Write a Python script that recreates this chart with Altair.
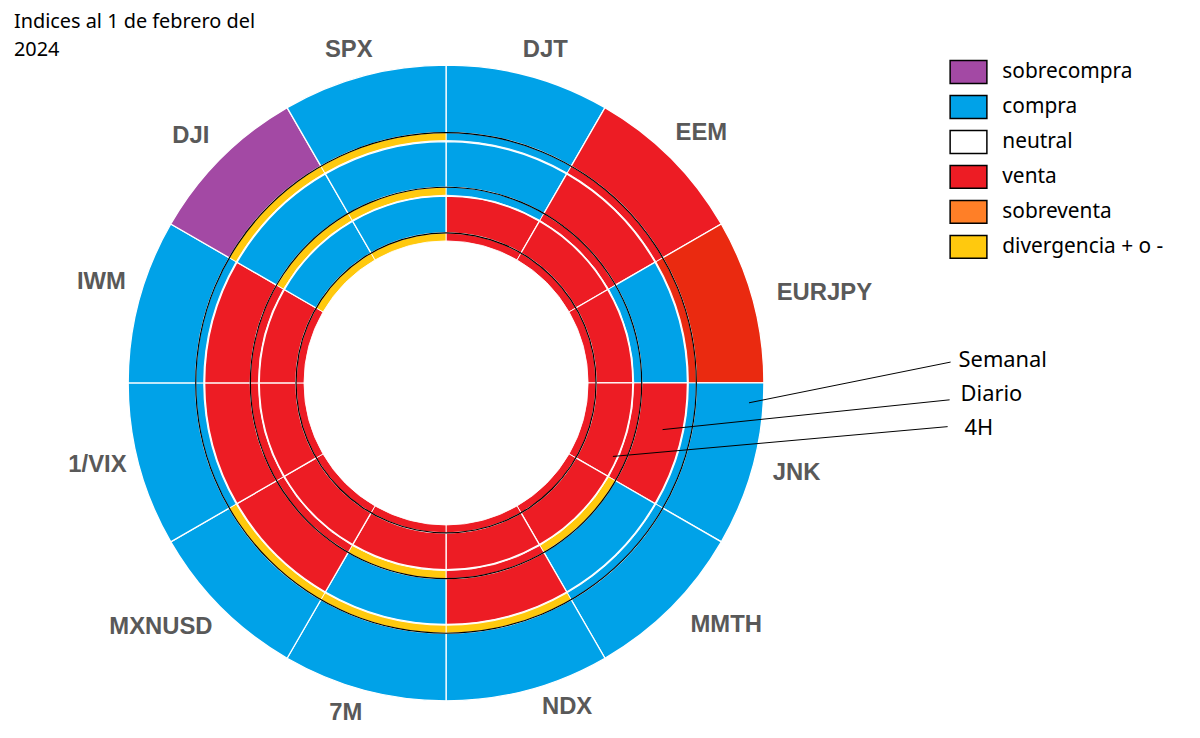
import math
import altair as alt
import pandas as pd

# ---------------- data ----------------
segmentos = ["DJT", "EEM", "EURJPY", "JNK", "MMTH", "NDX", "7M", "MXNUSD", "1/VIX", "IWM", "DJI", "SPX"]
semanal = ["compra", "venta", "venta (EURJPY)", "compra", "compra", "compra",
           "compra", "compra", "compra", "compra", "sobrecompra", "compra"]
diario = ["compra", "venta", "compra", "venta", "compra", "venta",
          "compra", "venta", "venta", "venta", "compra", "compra"]
h4 = ["venta", "venta", "venta", "venta", "venta", "venta",
      "venta", "venta", "venta", "venta", "compra", "compra"]
div_semanal = [False, False, False, False, False, True, True, True, False, False, True, True]
div_diario = [False, False, False, False, True, False, True, False, False, False, True, True]
div_h4 = [False, False, False, False, False, False, False, False, False, False, True, True]

estados = ["sobrecompra", "compra", "neutral", "venta", "sobreventa", "divergencia + o -"]
colores = ["#A349A4", "#00A2E8", "#FFFFFF", "#ED1C24", "#FF7F27", "#FFC90E"]
extra_estado = "venta (EURJPY)"
extra_color = "#EA2A10"

titulo = ["Indices al 1 de febrero del", "2024"]
anotaciones = ["Semanal", "Diario", "4H"]

# ---------------- layout / style (pixels) ----------------
R = 320
rings = {  # (band inner, band outer / main inner, main outer)
    "Semanal": (244, 252, 320),
    "Diario": (189, 197, 243),
    "4H": (143, 151, 188),
}
label_radius = 355
label_nudges = [(8, 8), (6, -1), (38, 1), (10, -1), (31, -7), (30, -17),
                (-9, -11), (-36, -5), (-8, -9), (-4, -10), (-6, 2), (-6, 8)]
# annotation / title anchors and leader lines, relative to the circle centre
ann_text_xy = [(516, -23), (518, 11), (522, 45)]
ann_line = [((508, -21), (305, 20)), ((507, 17), (218, 47)), ((505, 44), (168, 74))]
title_xy = [(-435, -363), (-435, -335)]

n = len(segmentos)
theta_scale = alt.Scale(domain=[0, n], range=[0, 2 * math.pi])
color_scale = alt.Scale(domain=estados + [extra_estado], range=colores + [extra_color])
legend = alt.Legend(
    title=None, values=estados, orient="none", legendX=835, legendY=-4,
    symbolType="M-1.85,-1.15L1.85,-1.15L1.85,1.15L-1.85,1.15Z", symbolSize=400,
    symbolStrokeColor="black", symbolStrokeWidth=1.5, symbolOpacity=1,
    labelFont="Noto Sans", labelFontSize=21, labelColor="black", labelOffset=23,
    labelLimit=400, rowPadding=5.2, padding=0,
)


def ring_df(estado, div):
    return pd.DataFrame({
        "seg": segmentos,
        "i0": list(range(n)),
        "i1": [i + 1 for i in range(n)],
        "estado": estado,
        "banda": [estados[5] if d else e for e, d in zip(estado, div)],
    })


def arc_layer(df, field, r_in, r_out, sw):
    return alt.Chart(df).mark_arc(radius=r_out, radius2=r_in, stroke="white", strokeWidth=sw).encode(
        theta=alt.Theta("i0:Q", scale=theta_scale),
        theta2="i1:Q",
        color=alt.Color(f"{field}:N", scale=color_scale, legend=legend),
    )


layers = []
circle_layers = []
for name, estado, div in [("Semanal", semanal, div_semanal), ("Diario", diario, div_diario), ("4H", h4, div_h4)]:
    b_in, m_in, m_out = rings[name]
    df = ring_df(estado, div)
    layers.append(arc_layer(df, "estado", m_in, m_out, 1.3))
    layers.append(arc_layer(df, "banda", b_in, m_in, 0.9))
    circ = pd.DataFrame({"i0": [0], "i1": [n]})
    circle_layers.append(
        alt.Chart(circ).mark_arc(radius=m_in + 0.6, radius2=m_in - 0.6, color="black").encode(
            theta=alt.Theta("i0:Q", scale=theta_scale), theta2="i1:Q"
        )
    )

seg_df = pd.DataFrame({"seg": segmentos, "mid": [i + 0.5 for i in range(n)]})
label_layers = []
for k, (dx, dy) in enumerate(label_nudges):
    label_layers.append(
        alt.Chart(seg_df.iloc[[k]]).mark_text(
            radius=label_radius, dx=dx, dy=dy, font="Liberation Sans", fontWeight="bold",
            fontSize=24, color="#595959", align="center", baseline="middle",
        ).encode(theta=alt.Theta("mid:Q", scale=theta_scale), text="seg:N")
    )

xs = alt.Scale(domain=[-R, R], range=[0, 2 * R], nice=False, zero=False)
ys = alt.Scale(domain=[-R, R], range=[0, 2 * R], nice=False, zero=False)
ann_df = pd.DataFrame({
    "texto": anotaciones,
    "tx": [p[0] for p in ann_text_xy], "ty": [p[1] for p in ann_text_xy],
    "x1": [l[0][0] for l in ann_line], "y1": [l[0][1] for l in ann_line],
    "x2": [l[1][0] for l in ann_line], "y2": [l[1][1] for l in ann_line],
})
ann_rules = alt.Chart(ann_df).mark_rule(color="black", strokeWidth=1).encode(
    x=alt.X("x1:Q", scale=xs, axis=None), y=alt.Y("y1:Q", scale=ys, axis=None),
    x2="x2:Q", y2="y2:Q",
)
ann_text = alt.Chart(ann_df).mark_text(
    align="left", baseline="middle", font="Noto Sans", fontSize=22, color="black"
).encode(x=alt.X("tx:Q", scale=xs, axis=None), y=alt.Y("ty:Q", scale=ys, axis=None), text="texto:N")

title_df = pd.DataFrame({
    "texto": titulo, "tx": [p[0] for p in title_xy], "ty": [p[1] for p in title_xy],
})
title_text = alt.Chart(title_df).mark_text(
    align="left", baseline="middle", font="Noto Sans", fontSize=20, color="black"
).encode(x=alt.X("tx:Q", scale=xs, axis=None), y=alt.Y("ty:Q", scale=ys, axis=None), text="texto:N")

chart = alt.layer(*layers, *circle_layers, *label_layers, ann_rules, ann_text, title_text).properties(
    width=2 * R, height=2 * R,
    padding={"left": 121, "top": 55, "right": 431, "bottom": 35},
    autosize=alt.AutoSizeParams(type="none"),
).configure_view(stroke=None).resolve_scale(theta="shared", color="shared")

chart.save("out.html", embed_options={"renderer": "svg", "actions": False})
